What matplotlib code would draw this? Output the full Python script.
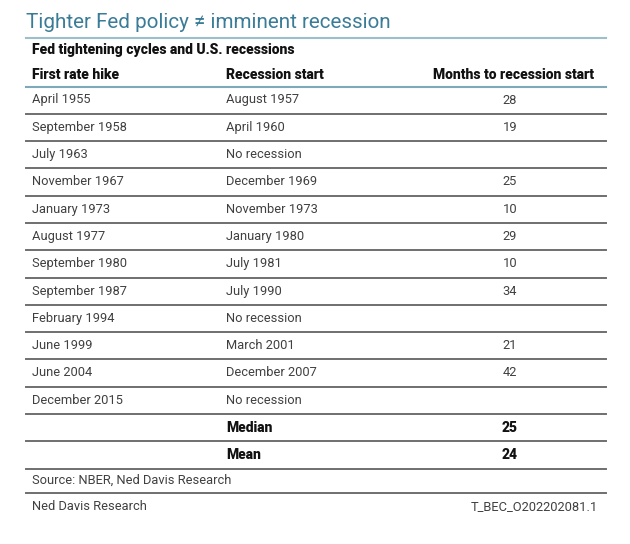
import matplotlib
matplotlib.use("Agg")
import matplotlib.pyplot as plt

title = "Tighter Fed policy \u2260 imminent recession"
subtitle = "Fed tightening cycles and U.S. recessions"
headers = ["First rate hike", "Recession start", "Months to recession start"]
first_hike = ["April 1955", "September 1958", "July 1963", "November 1967", "January 1973",
              "August 1977", "September 1980", "September 1987", "February 1994", "June 1999",
              "June 2004", "December 2015"]
recession_start = ["August 1957", "April 1960", "No recession", "December 1969", "November 1973",
                   "January 1980", "July 1981", "July 1990", "No recession", "March 2001",
                   "December 2007", "No recession"]
months = [28, 19, None, 25, 10, 29, 10, 34, None, 21, 42, None]
summary_labels = ["Median", "Mean"]
summary_values = [25, 24]
source = "Source: NBER, Ned Davis Research"
footer_left = "Ned Davis Research"
footer_right = "T_BEC_O202202081.1"

W, H = 630, 544
fig = plt.figure(figsize=(W / 100, H / 100), dpi=100)
ax = fig.add_axes([0, 0, 1, 1])
ax.set_xlim(0, W)
ax.set_ylim(H, 0)
ax.axis("off")

FONT = "Roboto"
teal = "#3a7c97"
txt = "#404040"
bold_c = "#111111"
line_c = "#6f6f6f"
x0, x1 = 26, 606
c1, c2, c3 = 32, 226, 510
FS = 9.3
BFS = 10.0
BW = 900

ax.text(x0, 22, title, fontsize=14.9, color=teal, family=[FONT, "DejaVu Sans"], va="center", ha="left")
ax.plot([x0, x1], [38, 38], color="#9dbfcc", lw=1.5)
ax.text(c1, 50, subtitle, fontsize=BFS, fontweight=BW, color=bold_c, family=FONT, va="center")
for x, h, ha in zip([c1, c2, 594], headers, ["left", "left", "right"]):
    ax.text(x, 75, h, fontsize=BFS, fontweight=BW, color=bold_c, family=FONT, va="center", ha=ha)
ax.plot([x0, x1], [87, 87], color="#7fa9b9", lw=1.5)

row_h = 27.3
y_start = 100
for i, (a, b, m) in enumerate(zip(first_hike, recession_start, months)):
    y = y_start + i * row_h
    ax.text(c1, y, a, fontsize=FS, color=txt, family=FONT, va="center")
    ax.text(c2, y, b, fontsize=FS, color=txt, family=FONT, va="center")
    if m is not None:
        ax.text(c3, y, str(m), fontsize=FS, color=txt, family=FONT, va="center", ha="center")
    ax.plot([x0, x1], [y + 13.7, y + 13.7], color=line_c, lw=1.4)

n = len(first_hike)
for j, (lab, val) in enumerate(zip(summary_labels, summary_values)):
    y = y_start + (n + j) * row_h
    ax.text(c2, y, lab, fontsize=BFS, fontweight=BW, color=bold_c, family=FONT, va="center")
    ax.text(c3, y, str(val), fontsize=BFS, fontweight=BW, color=bold_c, family=FONT, va="center", ha="center")
    ax.plot([x0, x1], [y + 13.7, y + 13.7], color=line_c, lw=1.4)

ys = y_start + (n + 2) * row_h - 2
ax.text(c1, ys, source, fontsize=FS, color=txt, family=FONT, va="center")
ax.plot([x0, x1], [ys + 12.5, ys + 12.5], color=line_c, lw=1.4)
ax.text(c1, ys + 26, footer_left, fontsize=FS, color=txt, family=FONT, va="center")
ax.text(598, ys + 26, footer_right, fontsize=FS, color=txt, family=FONT, va="center", ha="right")

fig.savefig("out.png", dpi=100, facecolor="white")
